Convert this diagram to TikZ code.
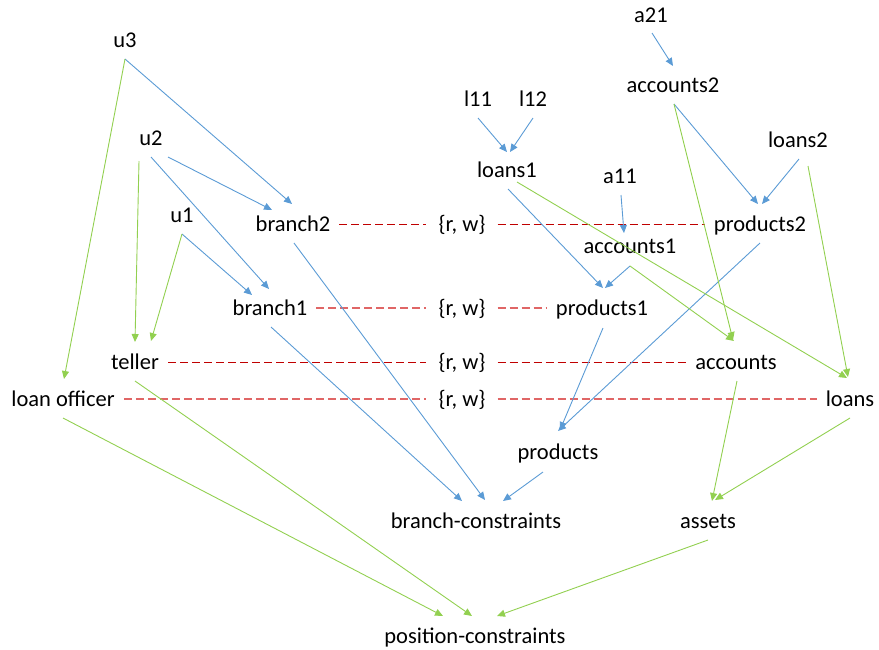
\documentclass[tikz,border=0pt]{standalone}
\usepackage{fontspec}
\setmainfont{Carlito}
\usetikzlibrary{arrows.meta}
\definecolor{flowblue}{HTML}{5B9BD5}
\definecolor{flowgreen}{HTML}{92D050}
\definecolor{confdark}{HTML}{C00000}
\definecolor{conflight}{HTML}{E06666}
\begin{document}
\begin{tikzpicture}[x=1pt,y=-1pt,
  lbl/.style={font=\fontsize{22.5}{27}\selectfont, text height=17pt, text depth=3pt,
    minimum height=40pt, inner ysep=0pt, inner xsep=9pt},
  rw/.style={lbl, inner xsep=12pt},
  tip/.style={-{Triangle[length=8pt,width=7pt]}},
  blueline/.style={draw=flowblue, line width=0.9pt, tip},
  greenline/.style={draw=flowgreen, line width=0.9pt, tip},
  confstrong/.style={draw=confdark, line width=0.9pt, dash pattern=on 8pt off 4pt},
  confsoft/.style={draw=conflight, line width=1.1pt, dash pattern=on 8pt off 4pt}]
\useasboundingbox (0,0) rectangle (879,649);

% users and roles
\node[lbl] (u3) at (125,40) {u3};
\node[lbl] (u2) at (151,138) {u2};
\node[lbl] (u1) at (182,215) {u1};
\node[lbl] (branch2) at (293,224) {branch2};
\node[lbl] (branch1) at (270,308) {branch1};
\node[lbl] (teller) at (135,362) {teller};
\node[lbl] (loanofficer) at (63,399) {loan officer};

% permission labels
\node[rw] (rw1) at (462,224) {\{r, w\}};
\node[rw] (rw2) at (462,308) {\{r, w\}};
\node[rw] (rw3) at (462,362) {\{r, w\}};
\node[rw] (rw4) at (462,399) {\{r, w\}};

% objects
\node[lbl] (l11) at (478,99) {l11};
\node[lbl] (l12) at (533,99) {l12};
\node[lbl] (loans1) at (507,170) {loans1};
\node[lbl] (a21) at (651,15) {a21};
\node[lbl] (accounts2) at (673,85) {accounts2};
\node[lbl] (loans2) at (798,140) {loans2};
\node[lbl] (a11) at (620,176) {a11};
\node[lbl] (products2) at (760,224) {products2};
\node[lbl] (accounts1) at (630,246) {accounts1};
\node[lbl] (products1) at (602,308) {products1};
\node[lbl] (accounts) at (736,362) {accounts};
\node[lbl] (loans) at (850,399) {loans};
\node[lbl] (products) at (558,452) {products};
\node[lbl] (bc) at (476,521) {branch-constraints};
\node[lbl] (assets) at (708,521) {assets};
\node[lbl] (pc) at (475,636) {position-constraints};

% dashed conflict lines
\draw[confstrong] (branch2.east) -- (rw1.west);
\draw[confstrong] (rw1.east) -- (products2.west);
\draw[confsoft] (branch1.east) -- (rw2.west);
\draw[confsoft] (rw2.east) -- (products1.west);
\draw[confstrong] (teller.east) -- (rw3.west);
\draw[confstrong] (rw3.east) -- (accounts.west);
\draw[confsoft] (loanofficer.east) -- (rw4.west);
\draw[confsoft] (rw4.east) -- (loans.west);

% blue hierarchy
\draw[blueline] ([shift={(0,19)}]u3.center) -- ([shift={(-1,-20)}]branch2.center);
\draw[blueline] ([shift={(17,19)}]u2.center) -- ([shift={(-21,-14)}]branch2.center);
\draw[blueline] ([shift={(0,19)}]u2.center) -- ([shift={(-1,-19)}]branch1.center);
\draw[blueline] ([shift={(0,19)}]u1.center) -- ([shift={(-18,-13)}]branch1.center);
\draw[blueline] ([shift={(1,19)}]branch2.center) -- ([shift={(9,-21)}]bc.center);
\draw[blueline] ([shift={(1,19)}]branch1.center) -- ([shift={(-14,-20)}]bc.center);
\draw[blueline] ([shift={(-15,20)}]products.center) -- ([shift={(27,-20)}]bc.center);
\draw[blueline] ([shift={(1,18)}]a21.center) -- ([shift={(0,-19)}]accounts2.center);
\draw[blueline] ([shift={(0,19)}]l11.center) -- ([shift={(0,-18)}]loans1.center);
\draw[blueline] ([shift={(0,19)}]l12.center) -- ([shift={(3,-18)}]loans1.center);
\draw[blueline] ([shift={(1,19)}]accounts2.center) -- ([shift={(-2,-20)}]products2.center);
\draw[blueline] ([shift={(1,19)}]loans2.center) -- ([shift={(2,-20)}]products2.center);
\draw[blueline] ([shift={(1,19)}]a11.center) -- ([shift={(-6,-13)}]accounts1.center);
\draw[blueline] ([shift={(1,19)}]loans1.center) -- ([shift={(1,-20)}]products1.center);
\draw[blueline] ([shift={(0,20)}]accounts1.center) -- ([shift={(3,-20)}]products1.center);
\draw[blueline] ([shift={(1,20)}]products1.center) -- ([shift={(2,-22)}]products.center);
\draw[blueline] ([shift={(0,19)}]products2.center) -- ([shift={(0,-21)}]products.center);

% green hierarchy
\draw[greenline] ([shift={(0,19)}]u3.center) -- ([shift={(1,-20)}]loanofficer.center);
\draw[greenline] ([shift={(-12,23)}]u2.center) -- ([shift={(0,-20)}]teller.center);
\draw[greenline] ([shift={(0,19)}]u1.center) -- ([shift={(16,-21)}]teller.center);
\draw[greenline] ([shift={(0,19)}]teller.center) -- ([shift={(-3,-20)}]pc.center);
\draw[greenline] ([shift={(0,19)}]loanofficer.center) -- ([shift={(-32,-20)}]pc.center);
\draw[greenline] ([shift={(0,19)}]assets.center) -- ([shift={(22,-20)}]pc.center);
\draw[greenline] ([shift={(1,19)}]accounts2.center) -- ([shift={(-3,-22)}]accounts.center);
\draw[greenline] ([shift={(10,26)}]loans2.center) -- ([shift={(-2,-22)}]loans.center);
\draw[greenline] ([shift={(10,12)}]loans1.center) -- ([shift={(-3,-21)}]loans.center);
\draw[greenline] ([shift={(0,20)}]accounts1.center) -- ([shift={(-2,-21)}]accounts.center);
\draw[greenline] ([shift={(1,19)}]accounts.center) -- ([shift={(4,-20)}]assets.center);
\draw[greenline] ([shift={(0,19)}]loans.center) -- ([shift={(7,-21)}]assets.center);
\end{tikzpicture}
\end{document}
